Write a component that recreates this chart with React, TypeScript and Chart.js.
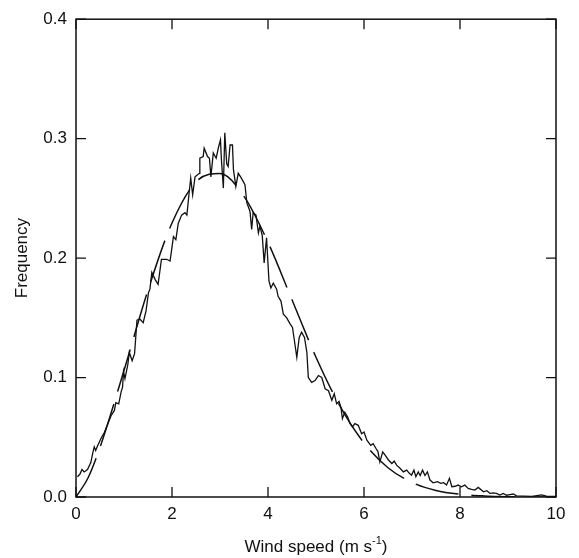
import React, { useEffect, useRef } from "react";
import { Chart, registerables } from "chart.js";

Chart.register(...registerables);

// Observed wind-speed frequency distribution (solid, noisy line)
const obsSpeed = [
  0.03, 0.08, 0.125, 0.17, 0.24, 0.31, 0.35, 0.38, 0.41, 0.45, 0.52, 0.59, 0.63, 0.66, 0.69, 0.73,
  0.8, 0.83, 0.89, 0.94, 0.97, 0.99, 1.02, 1.08, 1.11, 1.17, 1.22, 1.24, 1.27, 1.33, 1.4, 1.46,
  1.51, 1.54, 1.58, 1.65, 1.71, 1.78, 1.89, 1.96, 2.03, 2.08, 2.13, 2.2, 2.27, 2.31, 2.36, 2.39,
  2.43, 2.48, 2.57, 2.58, 2.65, 2.67, 2.74, 2.78, 2.81, 2.86, 2.92, 2.97, 3.01, 3.03, 3.07, 3.1,
  3.14, 3.17, 3.21, 3.26, 3.28, 3.33, 3.38, 3.43, 3.52, 3.56, 3.59, 3.625, 3.66, 3.69, 3.75, 3.8,
  3.83, 3.88, 3.92, 3.97, 4.02, 4.06, 4.11, 4.18, 4.21, 4.27, 4.32, 4.39, 4.46, 4.51, 4.55, 4.6,
  4.65, 4.7, 4.76, 4.81, 4.84, 4.91, 4.98, 5.05, 5.12, 5.19, 5.26, 5.33, 5.38, 5.43, 5.48, 5.52,
  5.55, 5.6, 5.66, 5.71, 5.76, 5.81, 5.88, 5.95, 6.0, 6.06, 6.14, 6.19, 6.25, 6.29, 6.33, 6.39,
  6.44, 6.51, 6.58, 6.63, 6.68, 6.75, 6.82, 6.89, 6.94, 6.99, 7.04, 7.08, 7.13, 7.17, 7.22, 7.27,
  7.32, 7.375, 7.44, 7.53, 7.6, 7.66, 7.72, 7.78, 7.83, 7.9, 7.96, 8.03, 8.1, 8.17, 8.24, 8.31,
  8.38, 8.49, 8.56, 8.625, 8.69, 8.76, 8.83, 8.9, 8.97, 9.04, 9.11, 9.18, 9.32, 9.5, 9.7, 9.8, 10.0,
];
const obsFreq = [
  0.017, 0.019, 0.023, 0.021, 0.023, 0.029, 0.037, 0.042, 0.039, 0.043, 0.049, 0.054, 0.058, 0.061, 0.064, 0.068,
  0.0725, 0.079, 0.078, 0.088, 0.092, 0.105, 0.099, 0.111, 0.121, 0.114, 0.12, 0.131, 0.148, 0.149, 0.146, 0.156,
  0.171, 0.174, 0.188, 0.182, 0.178, 0.199, 0.199, 0.1975, 0.218, 0.2155, 0.229, 0.236, 0.238, 0.236, 0.256, 0.267,
  0.253, 0.268, 0.271, 0.2836, 0.285, 0.292, 0.285, 0.2836, 0.268, 0.288, 0.2836, 0.293, 0.299, 0.282, 0.2586, 0.305,
  0.279, 0.2767, 0.2947, 0.2947, 0.274, 0.26, 0.271, 0.268, 0.2614, 0.246, 0.243, 0.239, 0.224, 0.238, 0.236, 0.221,
  0.2267, 0.219, 0.196, 0.217, 0.181, 0.175, 0.179, 0.174, 0.168, 0.164, 0.153, 0.15, 0.145, 0.142, 0.131, 0.117,
  0.1336, 0.138, 0.1336, 0.121, 0.1, 0.096, 0.0975, 0.1017, 0.1, 0.0906, 0.089, 0.081, 0.0864, 0.078, 0.08, 0.075,
  0.0656, 0.071, 0.067, 0.0614, 0.0586, 0.0614, 0.06, 0.053, 0.0544, 0.0475, 0.0433, 0.0447, 0.0406, 0.038, 0.0294, 0.0378,
  0.035, 0.031, 0.028, 0.03, 0.0267, 0.024, 0.021, 0.0225, 0.02, 0.0183, 0.0225, 0.017, 0.021, 0.018, 0.0225, 0.018,
  0.021, 0.0142, 0.0119, 0.0128, 0.0114, 0.012, 0.01, 0.0156, 0.0086, 0.009, 0.01, 0.0086, 0.01, 0.0072, 0.0064, 0.0058,
  0.008, 0.0044, 0.0053, 0.003, 0.0035, 0.003, 0.0017, 0.003, 0.0015, 0.002, 0.0025, 0.001, 0.0008, 0.0005, 0.0017, 0.0008, 0.0005,
];

// Fitted distribution (dashed line)
const fitSpeed = [0, 0.25, 0.5, 1, 1.5, 2, 2.5, 3, 3.5, 4, 4.5, 5, 5.5, 6, 6.5, 7, 7.5, 8, 8.5, 9, 9.5, 10];
const fitFreq = [
  0, 0.0159, 0.0416, 0.1059, 0.1731, 0.2294, 0.2638, 0.2708, 0.2517, 0.2132, 0.1651, 0.117, 0.076, 0.0452,
  0.0245, 0.0122, 0.0055, 0.0023, 0.0009, 0.0003, 0.0001, 0.00003,
];

const xTicks = [0, 2, 4, 6, 8, 10];
const yTicks = [0, 0.1, 0.2, 0.3, 0.4];

const FONT = '"Liberation Sans", Arial, Helvetica, sans-serif';
const INK = "#111";

const framePlugin = {
  id: "frameAndTitles",
  afterDraw(chart: any) {
    const { ctx, chartArea } = chart;
    const { left, right, top, bottom } = chartArea;
    const xs = chart.scales.x;
    const ys = chart.scales.y;
    ctx.save();
    ctx.strokeStyle = INK;
    ctx.lineWidth = 1.5;
    ctx.strokeRect(left, top, right - left, bottom - top);
    ctx.lineWidth = 1.3;
    ctx.beginPath();
    const tl = 10;
    xTicks.forEach((v) => {
      const px = xs.getPixelForValue(v);
      ctx.moveTo(px, bottom);
      ctx.lineTo(px, bottom - tl);
      ctx.moveTo(px, top);
      ctx.lineTo(px, top + tl);
    });
    yTicks.forEach((v) => {
      const py = ys.getPixelForValue(v);
      ctx.moveTo(left, py);
      ctx.lineTo(left + tl, py);
      ctx.moveTo(right, py);
      ctx.lineTo(right - tl, py);
    });
    ctx.stroke();

    // x-axis title with superscript
    ctx.fillStyle = INK;
    ctx.textBaseline = "alphabetic";
    ctx.textAlign = "left";
    const main = "Wind speed (m s";
    const sup = "-1";
    const close = ")";
    const bigFont = `17px ${FONT}`;
    const smallFont = `11px ${FONT}`;
    ctx.font = bigFont;
    const w1 = ctx.measureText(main).width;
    const w3 = ctx.measureText(close).width;
    ctx.font = smallFont;
    const w2 = ctx.measureText(sup).width;
    const total = w1 + w2 + w3;
    let x0 = (left + right) / 2 - total / 2;
    const base = 552;
    ctx.font = bigFont;
    ctx.fillText(main, x0, base);
    x0 += w1;
    ctx.font = smallFont;
    ctx.fillText(sup, x0, base - 8);
    x0 += w2;
    ctx.font = bigFont;
    ctx.fillText(close, x0, base);

    // y-axis title
    ctx.save();
    ctx.translate(27, (top + bottom) / 2);
    ctx.rotate(-Math.PI / 2);
    ctx.textAlign = "center";
    ctx.font = bigFont;
    ctx.fillText("Frequency", 0, 0);
    ctx.restore();

    ctx.restore();
  },
};

export default function App() {
  const ref = useRef<HTMLCanvasElement | null>(null);

  useEffect(() => {
    if (!ref.current) return;
    const obs = obsSpeed.map((s, i) => ({ x: s, y: obsFreq[i] }));
    const fit = fitSpeed.map((s, i) => ({ x: s, y: fitFreq[i] }));
    const chart = new Chart(ref.current, {
      type: "line",
      data: {
        datasets: [
          {
            label: "Observed",
            data: obs,
            borderColor: INK,
            borderWidth: 1.3,
            pointRadius: 0,
            fill: false,
            tension: 0,
          },
          {
            label: "Fit",
            data: fit,
            borderColor: INK,
            borderWidth: 1.5,
            borderDash: [44, 13],
            pointRadius: 0,
            fill: false,
            cubicInterpolationMode: "monotone",
          },
        ],
      },
      options: {
        responsive: false,
        animation: false,
        events: [],
        layout: { padding: { top: 17, right: 23, left: 0, bottom: 0 } },
        plugins: {
          legend: { display: false },
          tooltip: { enabled: false },
        },
        scales: {
          x: {
            type: "linear",
            min: 0,
            max: 10,
            grid: { display: false, drawTicks: false },
            border: { display: false },
            afterBuildTicks: (scale: any) => {
              scale.ticks = xTicks.map((v) => ({ value: v }));
            },
            afterFit: (scale: any) => {
              scale.height = 61;
            },
            ticks: {
              padding: 7,
              color: INK,
              font: { family: FONT, size: 17 },
              callback: (v: any) => String(v),
              maxRotation: 0,
            },
          },
          y: {
            type: "linear",
            min: 0,
            max: 0.4,
            grid: { display: false, drawTicks: false },
            border: { display: false },
            afterBuildTicks: (scale: any) => {
              scale.ticks = yTicks.map((v) => ({ value: v }));
            },
            afterFit: (scale: any) => {
              scale.width = 76;
            },
            ticks: {
              padding: 9,
              color: INK,
              font: { family: FONT, size: 17 },
              callback: (v: any) => Number(v).toFixed(1),
            },
          },
        },
      },
      plugins: [framePlugin],
    });
    return () => chart.destroy();
  }, []);

  return (
    <div style={{ position: "fixed", left: 0, top: 0, width: 579, height: 558, background: "#fff" }}>
      <canvas ref={ref} width={579} height={558} style={{ display: "block" }} />
    </div>
  );
}
